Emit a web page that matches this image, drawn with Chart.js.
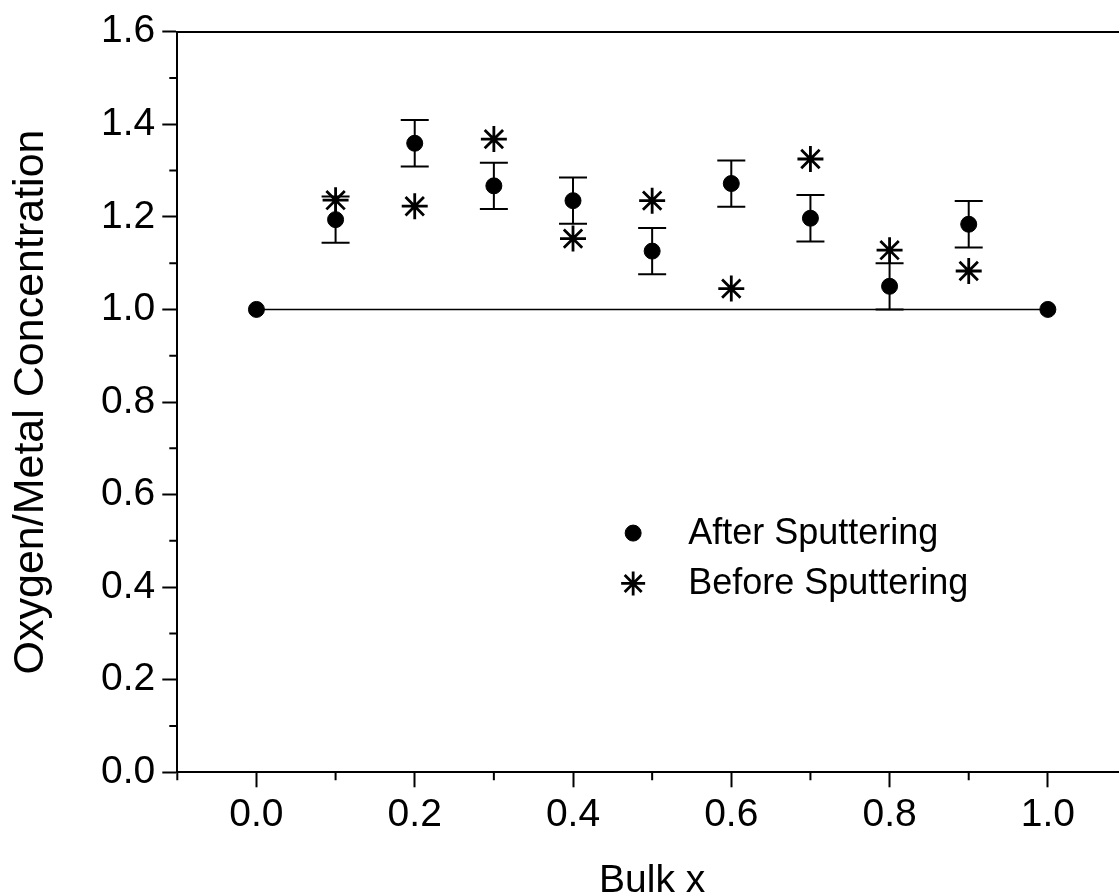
<!DOCTYPE html>
<html lang="en">
<head>
  <meta charset="UTF-8">
  <title>Oxygen/Metal Concentration vs Bulk x</title>
  <script src="https://cdn.jsdelivr.net/npm/chart.js"></script>
  <style>
    html, body { margin: 0; padding: 0; background: #fff; overflow: hidden; }
    /* canvas is a little wider than the window: the right frame edge falls just off the picture */
    canvas { display: block; }
  </style>
</head>
<body>
  <canvas id="chart" width="1130" height="896"></canvas>

  <script>
    // data
    const bulkX = [0.1, 0.2, 0.3, 0.4, 0.5, 0.6, 0.7, 0.8, 0.9];
    const afterSputtering = [1.194, 1.359, 1.267, 1.235, 1.126, 1.272, 1.197, 1.050, 1.184];
    const afterError = [0.05, 0.05, 0.05, 0.05, 0.05, 0.05, 0.05, 0.05, 0.05];
    const beforeSputtering = [1.236, 1.223, 1.368, 1.153, 1.235, 1.045, 1.325, 1.128, 1.083];
    const refX = [0.0, 1.0];
    const refY = [1.0, 1.0];

    const xMajorTicks = [0.0, 0.2, 0.4, 0.6, 0.8, 1.0];
    const xMinorTicks = [-0.1, 0.1, 0.3, 0.5, 0.7, 0.9];
    const yMajorTicks = [0.0, 0.2, 0.4, 0.6, 0.8, 1.0, 1.2, 1.4, 1.6];
    const yMinorTicks = [0.1, 0.3, 0.5, 0.7, 0.9, 1.1, 1.3, 1.5];
    const legendLabels = ["After Sputtering", "Before Sputtering"];

    const FONT = "'Liberation Sans', Arial, Helvetica, sans-serif";
    const INK = "#000";

    const pts = (xs, ys) => xs.map((x, i) => ({ x: x, y: ys[i] }));

    // vertical error bars on the "after" points
    const errorBars = {
      id: "errorBars",
      afterDatasetsDraw(chart) {
        const { ctx, scales: { x, y } } = chart;
        ctx.save();
        ctx.strokeStyle = INK;
        ctx.lineWidth = 2;
        bulkX.forEach((v, i) => {
          const px = x.getPixelForValue(v);
          const hi = y.getPixelForValue(afterSputtering[i] + afterError[i]);
          const lo = y.getPixelForValue(afterSputtering[i] - afterError[i]);
          ctx.beginPath();
          ctx.moveTo(px, hi); ctx.lineTo(px, lo);
          ctx.moveTo(px - 14, hi); ctx.lineTo(px + 14, hi);
          ctx.moveTo(px - 14, lo); ctx.lineTo(px + 14, lo);
          ctx.stroke();
        });
        ctx.restore();
      }
    };

    // short unlabelled ticks between the labelled ones
    const minorTicks = {
      id: "minorTicks",
      afterDraw(chart) {
        const { ctx, chartArea, scales: { x, y } } = chart;
        ctx.save();
        ctx.strokeStyle = INK;
        ctx.lineWidth = 2;
        ctx.beginPath();
        xMinorTicks.forEach(v => {
          const px = x.getPixelForValue(v);
          ctx.moveTo(px, chartArea.bottom); ctx.lineTo(px, chartArea.bottom + 8);
        });
        yMinorTicks.forEach(v => {
          const py = y.getPixelForValue(v);
          ctx.moveTo(chartArea.left, py); ctx.lineTo(chartArea.left - 8, py);
        });
        ctx.stroke();
        ctx.restore();
      }
    };

    // legend sitting inside the plot
    const innerLegend = {
      id: "innerLegend",
      afterDraw(chart) {
        const { ctx, chartArea } = chart;
        const w = chartArea.right - chartArea.left, h = chartArea.bottom - chartArea.top;
        const sx = chartArea.left + 0.48 * w;
        const rows = [chartArea.top + 0.677 * h, chartArea.top + 0.745 * h];
        const styles = [
          { pointStyle: "circle", radius: 8, borderWidth: 1 },
          { pointStyle: "star", radius: 12, borderWidth: 2.8 }
        ];
        ctx.save();
        ctx.fillStyle = INK;
        ctx.strokeStyle = INK;
        rows.forEach((ry, i) => {
          ctx.lineWidth = styles[i].borderWidth;
          Chart.helpers.drawPoint(ctx, { ...styles[i], rotation: 0 }, sx, ry);
        });
        ctx.font = "36px " + FONT;
        ctx.textBaseline = "middle";
        ctx.textAlign = "left";
        rows.forEach((ry, i) => ctx.fillText(legendLabels[i], sx + 55, ry + 1));
        ctx.restore();
      }
    };

    const tickFont = { family: FONT, size: 39 };

    new Chart(document.getElementById("chart"), {
      type: "scatter",
      data: {
        datasets: [
          {
            label: "line",
            data: pts(refX, refY),
            showLine: true,
            borderColor: INK,
            borderWidth: 1.5,
            pointStyle: "circle",
            pointRadius: 8,
            pointBorderWidth: 1,
            pointBackgroundColor: INK,
            pointBorderColor: INK
          },
          {
            label: legendLabels[0],
            data: pts(bulkX, afterSputtering),
            pointStyle: "circle",
            pointRadius: 8,
            pointBorderWidth: 1,
            pointBackgroundColor: INK,
            pointBorderColor: INK
          },
          {
            label: legendLabels[1],
            data: pts(bulkX, beforeSputtering),
            pointStyle: "star",
            pointRadius: 13,
            pointBorderWidth: 2.8,
            pointBackgroundColor: INK,
            pointBorderColor: INK
          }
        ]
      },
      options: {
        responsive: false,
        animation: false,
        devicePixelRatio: 1,
        layout: { autoPadding: false, padding: { left: 0, right: 3, top: 0, bottom: 0 } },
        plugins: { legend: { display: false }, tooltip: { enabled: false } },
        scales: {
          x: {
            type: "linear",
            position: "bottom",
            min: -0.1,
            max: 1.1,
            afterBuildTicks: s => { s.ticks = xMajorTicks.map(v => ({ value: v })); },
            afterFit: s => { s.height = 123.7; },
            ticks: { font: tickFont, color: INK, padding: 5, maxRotation: 0, callback: v => v.toFixed(1) },
            grid: { drawOnChartArea: false, drawTicks: true, tickLength: 15, tickWidth: 2, tickColor: INK },
            border: { display: true, color: INK, width: 2 },
            title: {
              display: true, text: "Bulk x", color: INK,
              font: { family: FONT, size: 39, lineHeight: 0.77 },
              padding: { top: 0, bottom: 0 }
            }
          },
          xTop: {
            type: "linear",
            position: "top",
            min: -0.1,
            max: 1.1,
            afterFit: s => { s.height = 31.7; },
            ticks: { display: false },
            grid: { display: false, drawTicks: false },
            border: { display: true, color: INK, width: 2 }
          },
          y: {
            type: "linear",
            position: "left",
            min: 0,
            max: 1.6,
            afterBuildTicks: s => { s.ticks = yMajorTicks.map(v => ({ value: v })); },
            afterFit: s => { s.width = 177.3; },
            ticks: { font: tickFont, color: INK, padding: 7, callback: v => v.toFixed(1) },
            grid: { drawOnChartArea: false, drawTicks: true, tickLength: 15, tickWidth: 2, tickColor: INK },
            border: { display: true, color: INK, width: 2 },
            title: {
              display: true, text: "Oxygen/Metal Concentration", color: INK,
              font: { family: FONT, size: 43 },
              padding: { top: 5, bottom: 0 }
            }
          }
        }
      },
      plugins: [errorBars, minorTicks, innerLegend]
    });
  </script>
</body>
</html>
